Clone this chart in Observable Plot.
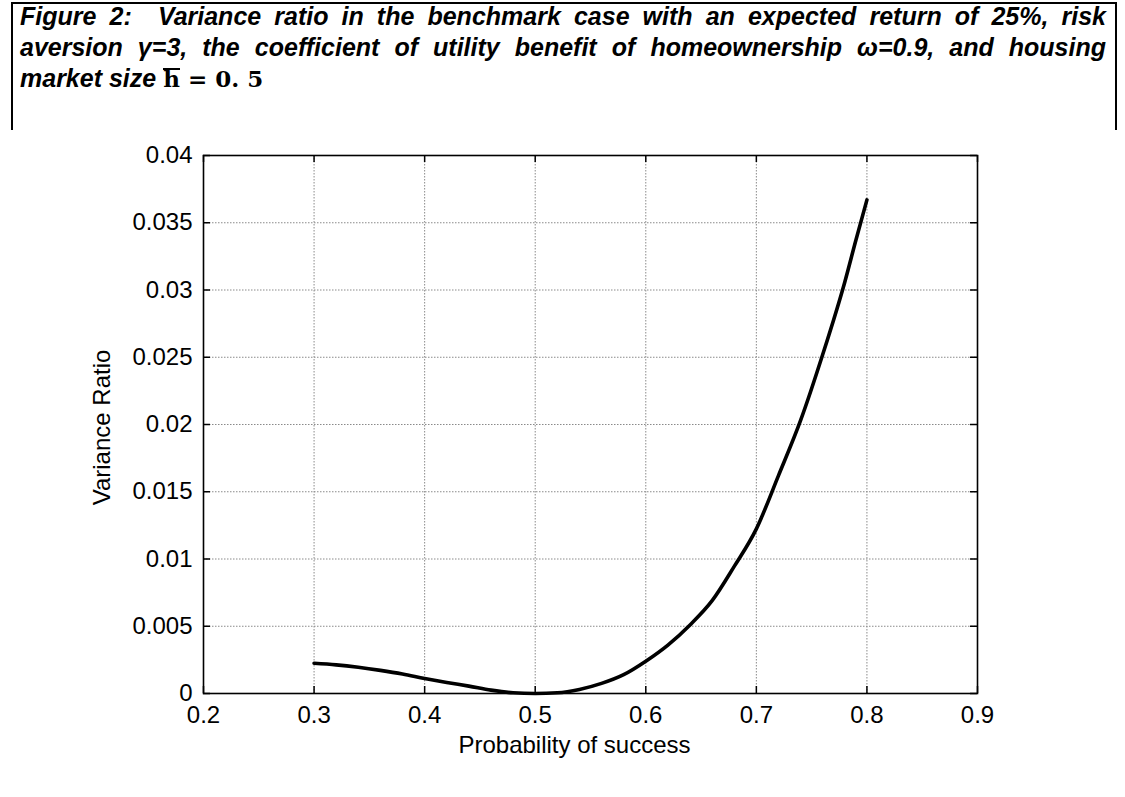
<!DOCTYPE html>
<html>
<head>
<meta charset="utf-8">
<script src="https://cdn.jsdelivr.net/npm/d3@7"></script>
<script src="https://cdn.jsdelivr.net/npm/@observablehq/plot@0.6"></script>
<style>
  html, body { margin: 0; padding: 0; background: #fff; }
  #page { position: relative; width: 1125px; height: 797px; overflow: hidden; background: #fff; }
  .bl { position: absolute; background: #000; }
  #title { position: absolute; left: 20px; top: 1px; width: 1086px;
    font-family: "Liberation Sans", Arial, sans-serif; font-weight: bold; font-style: italic;
    font-size: 25px; line-height: 31px; color: #000; }
  .jl { text-align: justify; text-align-last: justify; }
  .math { font-family: "DejaVu Serif", serif; font-style: normal; font-weight: bold; font-size: 23px; }
  .hbar { display: inline-block; border-top: 2px solid #000; line-height: 18px; }
  #chart { position: absolute; left: 0; top: 130px; }
</style>
</head>
<body>
<div id="page">
  <div class="bl" style="left:11px; top:2px; width:2px; height:795px;"></div>
  <div class="bl" style="left:11px; top:2px; width:1106px; height:2px;"></div>
  <div class="bl" style="left:1115px; top:2px; width:2px; height:142px;"></div>
  <div id="title">
    <div class="jl">Figure 2:&nbsp; Variance ratio in the benchmark case with an expected return of 25%, risk</div>
    <div class="jl">aversion γ=3, the coefficient of utility benefit of homeownership ω=0.9, and housing</div>
    <div>market size <span class="math"><span class="hbar">h</span> = 0. 5</span></div>
  </div>
  <div id="chart"></div>
</div>
<script>
// ---- data ----
const prob = [0.30, 0.32, 0.34, 0.36, 0.38, 0.40, 0.42, 0.44, 0.46, 0.48, 0.50,
              0.52, 0.54, 0.56, 0.58, 0.60, 0.62, 0.64, 0.66, 0.68, 0.70,
              0.72, 0.74, 0.76, 0.78, 0.79, 0.80];
const ratio = [0.00225, 0.00213, 0.00195, 0.00172, 0.00145, 0.00112, 0.00082, 0.00055, 0.00025, 0.00005, 0.00000,
               0.00005, 0.00030, 0.00075, 0.00140, 0.00240, 0.00360, 0.00510, 0.00690, 0.00945, 0.01224,
               0.01620, 0.02030, 0.02520, 0.03060, 0.03370, 0.03670];
const xTicks = [0.2, 0.3, 0.4, 0.5, 0.6, 0.7, 0.8, 0.9];
const xTickLabels = ["0.2", "0.3", "0.4", "0.5", "0.6", "0.7", "0.8", "0.9"];
const yTicks = [0, 0.005, 0.01, 0.015, 0.02, 0.025, 0.03, 0.035, 0.04];
const yTickLabels = ["0", "0.005", "0.01", "0.015", "0.02", "0.025", "0.03", "0.035", "0.04"];
const xLabel = "Probability of success";
const yLabel = "Variance Ratio";

const data = prob.map((p, i) => ({p, v: ratio[i]}));

const W = 1125, H = 667, mT = 25, mB = 104, mL = 203, mR = 148;
const innerH = H - mT - mB, innerW = W - mL - mR, tk = 7;

const chart = Plot.plot({
  width: W, height: H,
  marginTop: mT, marginBottom: mB, marginLeft: mL, marginRight: mR,
  x: {domain: [0.2, 0.9], label: null},
  y: {domain: [0, 0.04], label: null},
  style: {fontFamily: "'Liberation Sans', Arial, sans-serif", fontSize: "24px", color: "#000", background: "#fff", overflow: "visible"},
  marks: [
    Plot.gridX(xTicks, {stroke: "#8a8a8a", strokeOpacity: 1, strokeWidth: 1, strokeDasharray: "1.5,1.5"}),
    Plot.gridY(yTicks, {stroke: "#8a8a8a", strokeOpacity: 1, strokeWidth: 1, strokeDasharray: "1.5,1.5"}),
    Plot.line(data, {x: "p", y: "v", stroke: "#000", strokeWidth: 3.6, curve: "monotone-x"}),
    Plot.tickX(xTicks, {x: d => d, insetTop: innerH - tk, stroke: "#000", strokeWidth: 1.5}),
    Plot.tickX(xTicks, {x: d => d, insetBottom: innerH - tk, stroke: "#000", strokeWidth: 1.5}),
    Plot.tickY(yTicks, {y: d => d, insetRight: innerW - tk, stroke: "#000", strokeWidth: 1.5}),
    Plot.tickY(yTicks, {y: d => d, insetLeft: innerW - tk, stroke: "#000", strokeWidth: 1.5}),
    Plot.frame({stroke: "#000", strokeWidth: 1.6}),
    Plot.axisX(xTicks, {tickSize: 0, tickPadding: 12, tickFormat: d => xTickLabels[xTicks.indexOf(d)]}),
    Plot.axisY(yTicks, {tickSize: 0, tickPadding: 11, tickFormat: d => yTickLabels[yTicks.indexOf(d)]}),
    Plot.text([xLabel], {text: d => d, frameAnchor: "bottom", lineAnchor: "top", dy: 42, dx: -16, fill: "#000"}),
    Plot.text([yLabel], {text: d => d, frameAnchor: "left", rotate: -90, dx: -101, dy: 3, textAnchor: "middle", lineAnchor: "middle", fill: "#000"})
  ]
});
document.getElementById("chart").appendChild(chart);
</script>
</body>
</html>
